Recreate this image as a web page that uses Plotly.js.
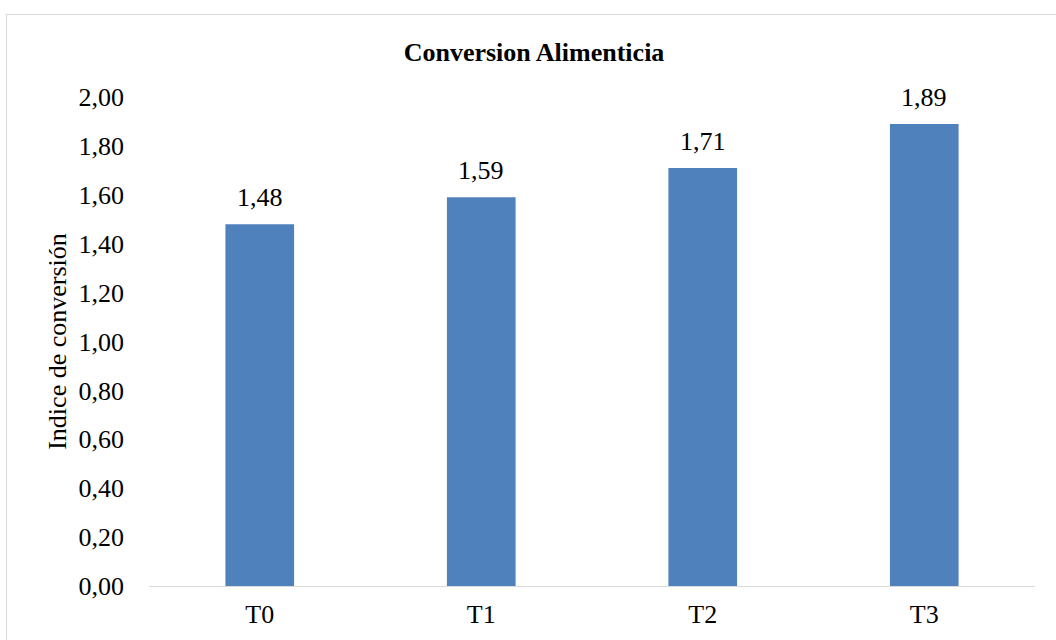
<!DOCTYPE html>
<html>
<head>
<meta charset="utf-8">
<script src="https://cdn.plot.ly/plotly-3.0.1.min.js"></script>
<style>
  html, body { margin: 0; padding: 0; background: #ffffff; overflow: hidden; }
  #frame { position: absolute; left: 6px; top: 14px; width: 1100px; height: 700px;
           border: 1px solid #d9d9d9; box-sizing: border-box; }
  #chart { position: absolute; left: 0; top: 0; width: 1056px; height: 640px; }
</style>
</head>
<body>
<div id="frame"></div>
<div id="chart"></div>
<script>
// Feed conversion index per treatment
const treatments = ['T0', 'T1', 'T2', 'T3'];
const conversion = [1.48, 1.59, 1.71, 1.89];
const yTickValues = [0, 0.2, 0.4, 0.6, 0.8, 1.0, 1.2, 1.4, 1.6, 1.8, 2.0];

const fmt = v => v.toFixed(2).replace('.', ',');
const serif = '"Liberation Serif", "Times New Roman", serif';
const FS = 26;

const trace = {
  type: 'bar',
  x: treatments,
  y: conversion,
  marker: { color: '#4f81bd' },
  hoverinfo: 'none'
};

// value labels above each bar
const valueLabels = treatments.map((t, i) => ({
  x: t,
  y: conversion[i],
  xref: 'x',
  yref: 'y',
  text: fmt(conversion[i]),
  showarrow: false,
  xanchor: 'center',
  yanchor: 'bottom',
  yshift: 10,
  font: { family: serif, size: FS, color: '#000000' }
}));

const layout = {
  width: 1056,
  height: 640,
  paper_bgcolor: 'rgba(0,0,0,0)',
  plot_bgcolor: 'rgba(0,0,0,0)',
  margin: { l: 149, r: 21, t: 97, b: 54 },
  bargap: 0.69,
  showlegend: false,
  font: { family: serif, size: FS, color: '#000000' },
  title: {
    text: '<b>Conversion Alimenticia</b>',
    font: { family: serif, size: FS, color: '#000000' },
    xref: 'container',
    x: 534 / 1056, xanchor: 'center',
    y: 1 - 52 / 640, yanchor: 'middle'
  },
  annotations: valueLabels,
  xaxis: {
    showgrid: false,
    zeroline: false,
    showline: true,
    linecolor: '#d9d9d9',
    linewidth: 1,
    ticks: '',
    ticklabelstandoff: 5,
    tickfont: { family: serif, size: FS, color: '#000000' }
  },
  yaxis: {
    range: [0, 2.0],
    tickvals: yTickValues,
    ticktext: yTickValues.map(fmt),
    showgrid: false,
    zeroline: false,
    showline: false,
    ticks: '',
    ticklabelstandoff: 24,
    tickfont: { family: serif, size: FS, color: '#000000' },
    title: {
      text: 'Indice de conversión',
      font: { family: serif, size: FS, color: '#000000' },
      standoff: 4
    }
  }
};

Plotly.newPlot('chart', [trace], layout, { staticPlot: true, displayModeBar: false });
</script>
</body>
</html>
